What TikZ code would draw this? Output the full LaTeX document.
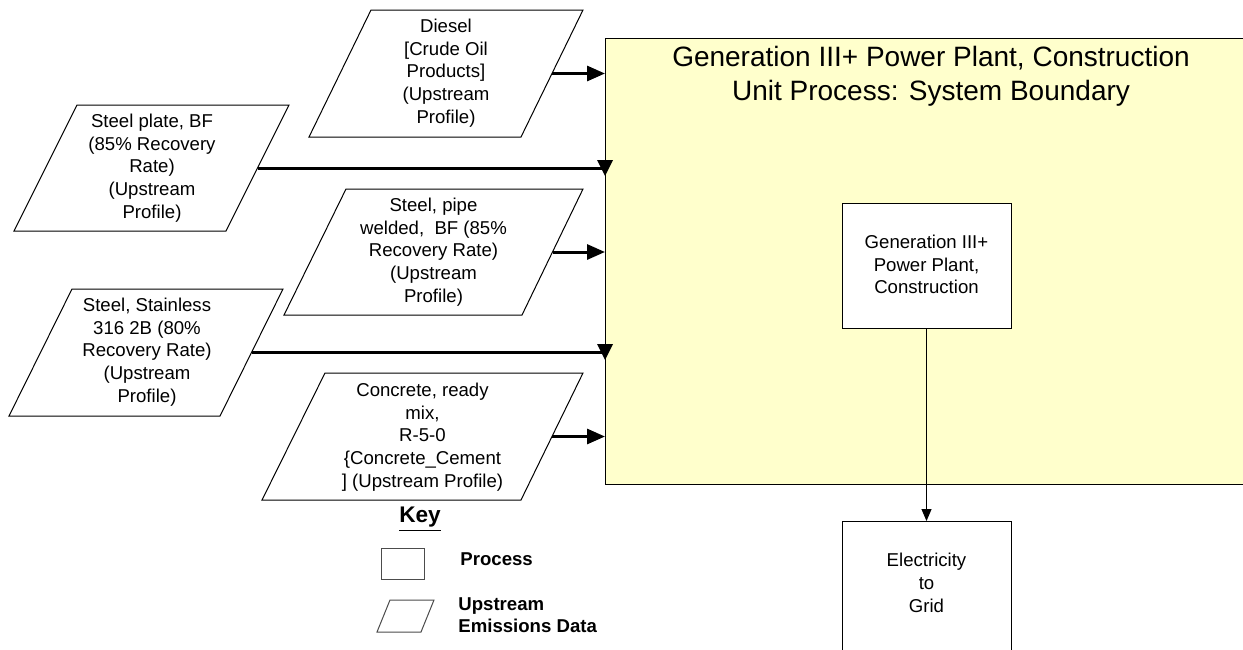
\documentclass[tikz,border=0pt]{standalone}
\usepackage{fontspec}
\setmainfont{Liberation Sans}
\usetikzlibrary{arrows.meta,calc}
\definecolor{boundary}{HTML}{FFFFCC}
\begin{document}
\begin{tikzpicture}[x=0.5pt,y=-0.5pt,
  para/.style={draw=black,line width=0.5pt,fill=white},
  ptext/.style={align=center,inner sep=0pt,font=\fontsize{9.3}{11.35}\selectfont},
  proc/.style={draw=black,line width=0.5pt,fill=white},
  flow/.style={line width=1.5pt,-{Triangle[length=9pt,width=7.5pt]}},
  flowdown/.style={line width=1.5pt},
  thinflow/.style={line width=0.5pt,-{Triangle[length=6pt,width=5pt]}},
  keytext/.style={anchor=west,align=left,inner sep=0pt,font=\bfseries\fontsize{9.3}{11}\selectfont}]
\useasboundingbox (0,0) rectangle (1243,649);
\clip (0,0) rectangle (1243,649);
\fill[white] (0,0) rectangle (1243,649);

% system boundary
\draw[fill=boundary,line width=0.5pt] (605,38) rectangle (1260,484);
\node[inner sep=0pt,align=center,font=\fontsize{14}{17}\selectfont] (title) at (931,76)
  {Generation III+ Power Plant, Construction\\Unit Process: System Boundary};
\coordinate (bw) at (605,250);

% process boxes
\node[proc,minimum width=84.5pt,minimum height=62.5pt,inner sep=0pt] (plant) at (926.5,265.5) {};
\node[ptext] (planttext) at (926.5,264.5) {Generation III+\\Power Plant,\\Construction};
\node[proc,minimum width=84.5pt,minimum height=80pt,anchor=north,inner sep=0pt] (grid) at (926.5,521) {};
\node[ptext] (gridtext) at (926.5,583) {Electricity\\to\\Grid};
\draw[thinflow] (plant.south) -- (grid.north);

% Diesel
\draw[para] (309,137) -- (521,137) -- (583,10) -- (371,10) -- cycle;
\node[ptext] (diesel) at (446,73) {Diesel\\{[}Crude Oil\\Products]\\(Upstream\\Profile)};
\coordinate (dieselR) at (552,73.5);
\draw[flow] (dieselR) -- (dieselR -| bw);

% Steel plate
\draw[para] (14,231) -- (226,231) -- (289,105) -- (77,105) -- cycle;
\node[ptext] (plate) at (152,168) {Steel plate, BF\\(85\% Recovery\\Rate)\\(Upstream\\Profile)};
\coordinate (plateR) at (257.5,168);
\coordinate (plateE) at (plateR -| bw);
\draw[flowdown] (plateR) -- (plateE);
\fill ($(plateE)+(-8,-8)$) -- ($(plateE)+(8,-8)$) -- ($(plateE)+(0,8)$) -- cycle;

% Steel pipe
\draw[para] (284,315) -- (522,315) -- (583,189) -- (346,189) -- cycle;
\node[ptext] (pipe) at (433.5,252) {Steel, pipe\\welded,\ \ BF (85\%\\Recovery Rate)\\(Upstream\\Profile)};
\coordinate (pipeR) at (552.5,252);
\draw[flow] (pipeR) -- (pipeR -| bw);

% Stainless
\draw[para] (9,416) -- (220,416) -- (283,289) -- (72,289) -- cycle;
\node[ptext] (stainless) at (147,352) {Steel, Stainless\\316 2B (80\%\\Recovery Rate)\\(Upstream\\Profile)};
\coordinate (stainR) at (251.5,352);
\coordinate (stainE) at (stainR -| bw);
\draw[flowdown] (stainR) -- (stainE);
\fill ($(stainE)+(-8,-8)$) -- ($(stainE)+(8,-8)$) -- ($(stainE)+(0,8)$) -- cycle;

% Concrete
\draw[para] (262,500) -- (521,500) -- (583,373) -- (325,373) -- cycle;
\node[ptext] (concrete) at (422.5,437) {Concrete, ready\\mix,\\R-5-0\\\{Concrete\_Cement\\{]} (Upstream Profile)};
\coordinate (concR) at (552,436.5);
\draw[flow] (concR) -- (concR -| bw);

% Key
\node[inner sep=0pt,font=\bfseries\fontsize{11.3}{13}\selectfont] (key) at (420,519) {\underline{Key}};
\node[draw=black!70,line width=0.5pt,minimum width=21.5pt,minimum height=15.5pt,inner sep=0pt] (keyproc) at (402.5,563.5) {};
\node[keytext] (keyproctext) at (460,559) {Process};
\draw[draw=black!70,line width=0.5pt] (377,632) -- (421,632) -- (434,600) -- (390,600) -- cycle;
\node[keytext] (keyparatext) at (458,615.5) {Upstream\\Emissions Data};
\end{tikzpicture}
\end{document}
